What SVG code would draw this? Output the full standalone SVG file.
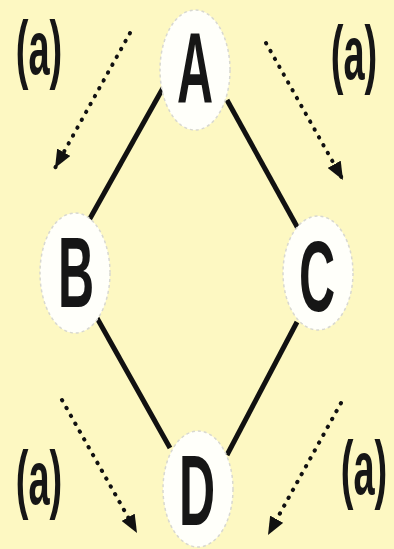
<svg xmlns="http://www.w3.org/2000/svg" width="394" height="549" viewBox="0 0 394 549">
<defs>
<marker id="ah" viewBox="0 0 18 15" refX="18" refY="7.5" markerWidth="18" markerHeight="15" markerUnits="userSpaceOnUse" orient="auto">
<path d="M0,0 L18,7.5 L0,15 Z" fill="#111"/>
</marker>
<style>
.node ellipse{fill:#fffffa;stroke:#d8d8d0;stroke-width:1.5;stroke-dasharray:3 3}
.lbl{font-family:"Liberation Sans",Arial,sans-serif;font-weight:bold;fill:#161616;text-anchor:middle}
.big{font-size:50px}
.sm{font-size:38px}
.edge{stroke:#111;stroke-width:5;fill:none}
.dot{stroke:#111;stroke-width:4;stroke-linecap:round;stroke-dasharray:0.5 8.5;fill:none;marker-end:url(#ah)}
</style>
</defs>
<rect width="394" height="549" fill="#fdf8c2"/>
<g id="connectors">
<line class="edge" x1="163" y1="88" x2="88" y2="222"/>
<line class="edge" x1="227" y1="100" x2="300" y2="232"/>
<line class="edge" x1="97" y1="318" x2="170" y2="448"/>
<line class="edge" x1="297" y1="322" x2="227" y2="455"/>
<line class="dot" x1="130" y1="33" x2="55" y2="168"/>
<line class="dot" x1="266" y1="43" x2="343" y2="180"/>
<line class="dot" x1="62" y1="400" x2="137" y2="533"/>
<line class="dot" x1="341" y1="403" x2="268" y2="535"/>
</g>
<g id="node-A" class="node">
<ellipse cx="195" cy="70" rx="35" ry="60"/>
<text class="lbl big" transform="translate(195,103) scale(1,2)">A</text>
</g>
<g id="node-B" class="node">
<ellipse cx="75" cy="273" rx="35" ry="60"/>
<text class="lbl big" transform="translate(76,307) scale(1,2)">B</text>
</g>
<g id="node-C" class="node">
<ellipse cx="318" cy="273" rx="35" ry="57"/>
<text class="lbl big" transform="translate(317,311) scale(1,2)">C</text>
</g>
<g id="node-D" class="node">
<ellipse cx="198" cy="489" rx="35" ry="58"/>
<text class="lbl big" transform="translate(197,525) scale(1,2)">D</text>
</g>
<g id="labels">
<text class="lbl sm" transform="translate(39,74) scale(1,2)">(a)</text>
<text class="lbl sm" transform="translate(354,79) scale(1,2)">(a)</text>
<text class="lbl sm" transform="translate(39,504) scale(1,2)">(a)</text>
<text class="lbl sm" transform="translate(364,494) scale(1,2)">(a)</text>
</g>
</svg>
